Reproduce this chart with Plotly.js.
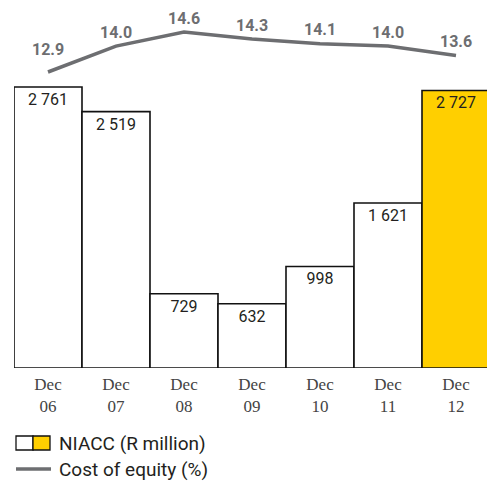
<!DOCTYPE html>
<html><head><meta charset="utf-8">
<script src="https://cdn.plot.ly/plotly-3.0.1.min.js"></script>
<style>html,body{margin:0;padding:0;background:#fff}#c{width:487px;height:482px}</style>
</head><body><div id="c"></div>
<script>
const categories = ['Dec<br>06','Dec<br>07','Dec<br>08','Dec<br>09','Dec<br>10','Dec<br>11','Dec<br>12'];
const niacc = [2761, 2519, 729, 632, 998, 1621, 2727];
const costOfEquity = [12.9, 14.0, 14.6, 14.3, 14.1, 14.0, 13.6];
const barColors = ['#ffffff','#ffffff','#ffffff','#ffffff','#ffffff','#ffffff','#ffcf00'];
const legendLabels = ['NIACC (R million)', 'Cost of equity (%)'];

function fmt(v){ return String(v).replace(/\B(?=(\d{3})+(?!\d))/g, ' '); }

const W = 487, H = 482;
const L = 14, R = 0, T = 10, B = 114;
const pw = W - L - R, ph = H - T - B;
const px = x => (x - L) / pw;
const py = y => (H - B - y) / ph;

const bars = {
  type: 'bar', x: categories, y: niacc,
  text: niacc.map(fmt), textposition: 'inside', insidetextanchor: 'end', textangle: 0,
  textfont: {family: 'Roboto, "Noto Sans", sans-serif', size: 16, color: '#231f20'},
  marker: {color: barColors, line: {color: '#111111', width: 1.6}},
  width: 1, hoverinfo: 'skip', showlegend: false, cliponaxis: true
};
const line = {
  type: 'scatter', mode: 'lines', x: categories, y: costOfEquity, yaxis: 'y2',
  line: {color: '#6d6e71', width: 3.5}, cliponaxis: false, showlegend: false, hoverinfo: 'skip'
};

const shapes = [
  {type:'rect', xref:'paper', yref:'paper', x0:px(16), x1:px(33), y0:py(450), y1:py(436), fillcolor:'#ffffff', line:{color:'#111', width:1.3}},
  {type:'rect', xref:'paper', yref:'paper', x0:px(33), x1:px(50), y0:py(450), y1:py(436), fillcolor:'#ffcf00', line:{color:'#111', width:1.3}},
  {type:'line', xref:'paper', yref:'paper', x0:px(16), x1:px(51), y0:py(469), y1:py(469), line:{color:'#6d6e71', width:3.5}}
];
const annotations = [
  {xref:'paper', yref:'paper', x:px(57), y:py(443), xanchor:'left', yanchor:'middle', showarrow:false, text:legendLabels[0], font:{family:'Roboto, "Noto Sans", sans-serif', size:19, color:'#231f20'}},
  {xref:'paper', yref:'paper', x:px(57), y:py(469), xanchor:'left', yanchor:'middle', showarrow:false, text:legendLabels[1], font:{family:'Roboto, "Noto Sans", sans-serif', size:19, color:'#231f20'}}
];
costOfEquity.forEach((v, i) => {
  annotations.push({xref:'x', yref:'y2', x:categories[i], y:v, yshift: i === 0 ? 23 : 14, xanchor:'center', yanchor:'middle',
    showarrow:false, text:v.toFixed(1), font:{family:'Roboto, "Noto Sans", sans-serif', size:16, color:'#6d6e71', weight:'bold'}});
});

const layout = {
  width: W, height: H, margin: {l: L, r: R, t: T, b: B, pad: 0},
  paper_bgcolor: '#fff', plot_bgcolor: '#fff',
  bargap: 0, showlegend: false,
  xaxis: {type: 'category', range: [-0.5, -0.5 + pw/68], showgrid: false, zeroline: false, showline: false, ticks: '',
          ticklabelstandoff: 4,
          tickfont: {family: '"Liberation Serif", "DejaVu Serif", serif', size: 17, color: '#444444'}, fixedrange: true},
  yaxis: {range: [0, 3518], visible: false, showgrid: false, zeroline: false, fixedrange: true},
  yaxis2: {range: [0.32, 15.535], overlaying: 'y', side: 'right', visible: false, showgrid: false, zeroline: false},
  shapes: shapes, annotations: annotations
};
Plotly.newPlot('c', [bars, line], layout, {displayModeBar: false, staticPlot: true});
</script></body></html>
